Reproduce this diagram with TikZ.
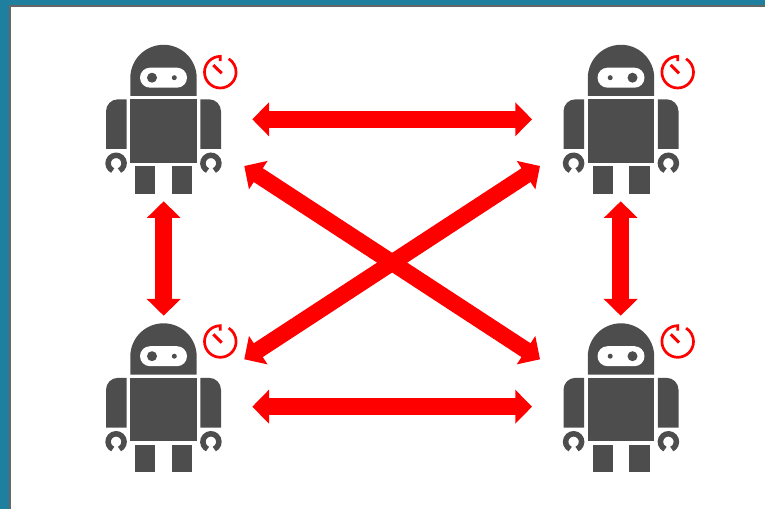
\documentclass[tikz,border=0pt]{standalone}
\usetikzlibrary{arrows.meta}
\definecolor{robotgrey}{HTML}{4D4D4D}
\definecolor{tealbg}{HTML}{1F7F9E}
\definecolor{framegrey}{HTML}{666666}
\tikzset{
  robotpart/.style={fill=robotgrey,draw=none},
  link/.style={draw=red,line width=16.5pt,{Triangle[length=16.7pt,width=33pt]}-{Triangle[length=16.7pt,width=33pt]}},
  robot/.pic={
    % head
    \fill[robotpart] (-33.2,23) -- (-33.2,41) arc[start angle=180,end angle=0,radius=33.2] -- (33.2,23) -- cycle;
    % visor and eyes
    \fill[white,rounded corners=10pt] (-23.5,31.3) rectangle (23.5,51.3);
    \fill[robotpart] (-11.5,41.3) circle[radius=5];
    \fill[robotpart] (10.8,41.3) circle[radius=2.5];
    % body
    \fill[robotpart] (-33.2,19.7) rectangle (33.2,-43.7);
    % arms
    \fill[robotpart] (-36.8,19.7) -- (-36.8,-30) -- (-57.5,-30) -- (-57.5,7.7) arc[start angle=180,end angle=90,radius=12] -- cycle;
    \fill[robotpart] (36.8,19.7) -- (36.8,-30) -- (57.5,-30) -- (57.5,7.7) arc[start angle=0,end angle=90,radius=12] -- cycle;
    % hands
    \draw[robotgrey,line width=5.5pt] (-47.4,-44.3) ++(-65:8) arc[start angle=-65,end angle=245,radius=8];
    \draw[robotgrey,line width=5.5pt] (47.4,-44.3) ++(-65:8) arc[start angle=-65,end angle=245,radius=8];
    % legs
    \fill[robotpart] (-28.5,-47) rectangle (-8.2,-74.7);
    \fill[robotpart] (8.2,-47) rectangle (28.5,-74.7);
  },
  stopwatch/.pic={
    \draw[red,line width=2.7pt] (0,11) -- (90:15.8) arc[start angle=90,end angle=418,radius=15.8];
    \draw[red,line width=3pt] (-7,7.2) -- (1.4,-1.1);
  }
}
\begin{document}
\begin{tikzpicture}[x=1pt,y=1pt]
\useasboundingbox (0,0) rectangle (765,509);
\fill[tealbg] (0,0) rectangle (765,509);
\fill[framegrey] (9,0) rectangle (765,504);
\fill[white] (11,0) rectangle (765,502);
% robot centres
\coordinate (rTL) at (163.5,390);
\coordinate (rTR) at (621,390);
\coordinate (rBL) at (163.5,111.5);
\coordinate (rBR) at (621,111.5);
\pic at (rTL) {robot};
\pic[xscale=-1] at (rTR) {robot};
\pic at (rBL) {robot};
\pic[xscale=-1] at (rBR) {robot};
% stopwatches
\coordinate (cTL) at (220.3,436.8);
\coordinate (cTR) at (677.7,436.8);
\coordinate (cBL) at (220.3,167.5);
\coordinate (cBR) at (677.7,167.5);
\pic at (cTL) {stopwatch};
\pic at (cTR) {stopwatch};
\pic at (cBL) {stopwatch};
\pic at (cBR) {stopwatch};
% connector ends
\coordinate (hTa) at (252.3,389.7);
\coordinate (hTb) at (532,389.7);
\coordinate (hBa) at (252.3,102.3);
\coordinate (hBb) at (532,102.3);
\coordinate (vLa) at (163.7,307.7);
\coordinate (vLb) at (163.7,193.3);
\coordinate (vRa) at (620.7,307.7);
\coordinate (vRb) at (620.7,193.3);
\coordinate (dTL) at (244.3,343);
\coordinate (dTR) at (540,343);
\coordinate (dBL) at (244.3,149.7);
\coordinate (dBR) at (540,149.7);
% connectors
\draw[link] (hTa) -- (hTb);
\draw[link] (hBa) -- (hBb);
\draw[link] (vLa) -- (vLb);
\draw[link] (vRa) -- (vRb);
\draw[link] (dTL) -- (dBR);
\draw[link] (dBL) -- (dTR);
\end{tikzpicture}
\end{document}
